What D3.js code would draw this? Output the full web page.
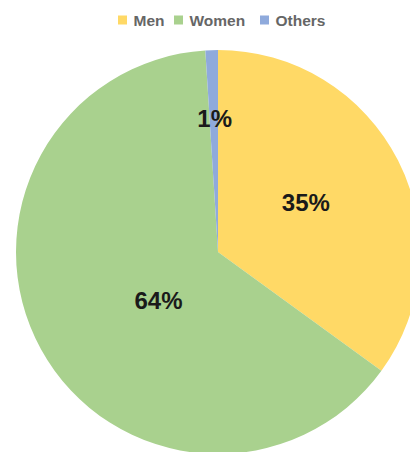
<!DOCTYPE html>
<html>
<head>
<meta charset="utf-8">
<script src="https://cdn.jsdelivr.net/npm/d3@7"></script>
<style>
  html, body { margin: 0; padding: 0; background: #ffffff; }
  svg { display: block; }
</style>
</head>
<body>
<svg id="chart" width="410" height="452"></svg>
<script>
// Gender split of respondents
const categories = ["Men", "Women", "Others"];
const shares = [35, 64, 1];
const sliceLabels = ["35%", "64%", "1%"];

const colors = ["#FFD966", "#A9D18E", "#8FAADC"];

const width = 410, height = 452;
const cx = 218, cy = 252, radius = 202;

// where each label sits: fraction of the radius and fraction across the slice's angle
const labelRadius = [0.5, 0.38, 0.66];
const labelSweep = [0.48, 0.455, 0.6];

const svg = d3.select("#chart");

const data = categories.map((c, i) => ({ name: c, value: shares[i], label: sliceLabels[i], i }));

const pie = d3.pie().sort(null).value(d => d.value);
const arc = d3.arc().innerRadius(0).outerRadius(radius);
const arcs = pie(data);

const g = svg.append("g").attr("transform", `translate(${cx},${cy})`);

g.selectAll("path.slice")
  .data(arcs)
  .join("path")
  .attr("class", "slice")
  .attr("d", arc)
  .attr("fill", d => colors[d.data.i]);

g.selectAll("text.pct")
  .data(arcs)
  .join("text")
  .attr("class", "pct")
  .attr("transform", d => {
    const a = d.startAngle + (d.endAngle - d.startAngle) * labelSweep[d.data.i];
    const r = radius * labelRadius[d.data.i];
    return `translate(${r * Math.sin(a)},${-r * Math.cos(a)})`;
  })
  .attr("text-anchor", "middle")
  .attr("dy", "0.35em")
  .attr("font-family", "'Liberation Sans', Arial, sans-serif")
  .attr("font-weight", "bold")
  .attr("font-size", 24)
  .attr("fill", "#1a1a1a")
  .text(d => d.data.label);

// legend across the top
const legend = svg.append("g").attr("transform", "translate(118,20)");
const itemX = [0, 56, 142];
const item = legend.selectAll("g.item")
  .data(data)
  .join("g")
  .attr("class", "item")
  .attr("transform", (d, i) => `translate(${itemX[i]},0)`);

item.append("rect")
  .attr("x", 0).attr("y", -4.5)
  .attr("width", 9).attr("height", 9)
  .attr("fill", d => colors[d.i]);

item.append("text")
  .attr("x", 15.5)
  .attr("dy", "0.36em")
  .attr("font-family", "'Liberation Sans', Arial, sans-serif")
  .attr("font-weight", "bold")
  .attr("font-size", 15.5)
  .attr("fill", "#666666")
  .text(d => d.name);
</script>
</body>
</html>
